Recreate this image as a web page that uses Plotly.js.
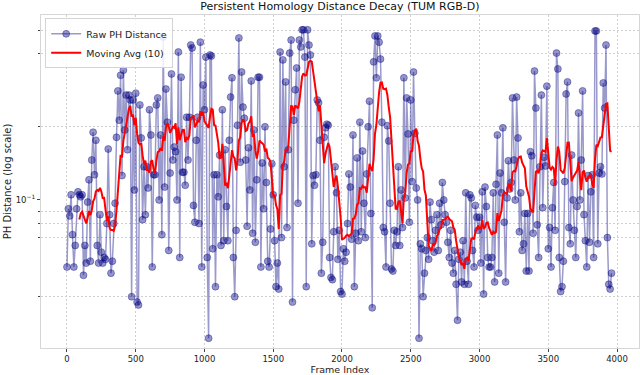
<!DOCTYPE html>
<html>
<head>
<meta charset="utf-8">
<script src="https://cdn.plot.ly/plotly-3.0.1.min.js"></script>
<style>
html, body { margin: 0; padding: 0; background: #fff; }
#chart { width: 640px; height: 375px; }
</style>
</head>
<body>
<div id="chart"></div>
<script>
// frames are sampled every 10 frames, starting at 0
var frameStep = 10;
var maWindow = 10;

// raw PH distance, one line per 100 frames
var rawDistance = [
    0.053, 0.092, 0.086, 0.105, 0.072, 0.053, 0.065, 0.092, 0.108, 0.105,
    0.103, 0.105, 0.049, 0.065, 0.055, 0.098, 0.121, 0.056, 0.146, 0.190,
    0.127, 0.176, 0.065, 0.055, 0.087, 0.061, 0.055, 0.058, 0.057, 0.080,
    0.162, 0.087, 0.050, 0.056, 0.080, 0.097, 0.181, 0.281, 0.213, 0.326,
    0.126, 0.342, 0.194, 0.270, 0.161, 0.270, 0.258, 0.040, 0.258, 0.110,
    0.275, 0.038, 0.037, 0.246, 0.180, 0.083, 0.137, 0.087, 0.137, 0.112,
    0.235, 0.185, 0.053, 0.127, 0.127, 0.246, 0.263, 0.100, 0.185, 0.072,
    0.468, 0.113, 0.286, 0.209, 0.062, 0.129, 0.330, 0.146, 0.165, 0.158,
    0.100, 0.406, 0.058, 0.320, 0.130, 0.130, 0.115, 0.219, 0.146, 0.219,
    0.434, 0.422, 0.095, 0.081, 0.176, 0.219, 0.080, 0.446, 0.053, 0.297,
    0.235, 0.387, 0.058, 0.027, 0.395, 0.391, 0.063, 0.127, 0.044, 0.127,
    0.103, 0.153, 0.065, 0.235, 0.068, 0.161, 0.094, 0.068, 0.176, 0.265,
    0.318, 0.058, 0.040, 0.075, 0.203, 0.464, 0.143, 0.336, 0.241, 0.217,
    0.146, 0.078, 0.164, 0.110, 0.309, 0.073, 0.194, 0.067, 0.121, 0.320,
    0.320, 0.053, 0.142, 0.092, 0.200, 0.118, 0.056, 0.053, 0.076, 0.141,
    0.105, 0.068, 0.044, 0.055, 0.043, 0.406, 0.070, 0.377, 0.137, 0.306,
    0.077, 0.161, 0.402, 0.455, 0.038, 0.213, 0.284, 0.349, 0.097, 0.455,
    0.426, 0.501, 0.501, 0.387, 0.044, 0.501, 0.434, 0.395, 0.066, 0.126,
    0.115, 0.127, 0.258, 0.251, 0.176, 0.050, 0.067, 0.181, 0.198, 0.205,
    0.203, 0.058, 0.048, 0.047, 0.074, 0.137, 0.107, 0.057, 0.075, 0.042,
    0.041, 0.063, 0.056, 0.061, 0.080, 0.128, 0.113, 0.069, 0.185, 0.044,
    0.073, 0.149, 0.068, 0.209, 0.074, 0.159, 0.097, 0.070, 0.128, 0.200,
    0.255, 0.088, 0.036, 0.370, 0.473, 0.318, 0.473, 0.446, 0.380, 0.209,
    0.077, 0.074, 0.053, 0.202, 0.175, 0.097, 0.052, 0.051, 0.075, 0.065,
    0.074, 0.137, 0.065, 0.110, 0.077, 0.318, 0.102, 0.263, 0.187, 0.081,
    0.258, 0.119, 0.336, 0.188, 0.112, 0.100, 0.027, 0.066, 0.063, 0.040,
    0.050, 0.062, 0.070, 0.057, 0.098, 0.083, 0.068, 0.061, 0.075, 0.087,
    0.062, 0.097, 0.079, 0.118, 0.100, 0.087, 0.081, 0.067, 0.058, 0.075,
    0.055, 0.050, 0.062, 0.045, 0.032, 0.057, 0.061, 0.046, 0.068, 0.045,
    0.107, 0.056, 0.045, 0.105, 0.102, 0.062, 0.053, 0.095, 0.085, 0.075,
    0.085, 0.055, 0.108, 0.041, 0.113, 0.094, 0.058, 0.053, 0.053, 0.058,
    0.107, 0.046, 0.116, 0.185, 0.050, 0.129, 0.107, 0.198, 0.081, 0.046,
    0.102, 0.145, 0.111, 0.118, 0.263, 0.146, 0.100, 0.265, 0.180, 0.074,
    0.107, 0.062, 0.066, 0.088, 0.051, 0.088, 0.051, 0.158, 0.152, 0.073,
    0.339, 0.239, 0.079, 0.058, 0.137, 0.270, 0.093, 0.150, 0.138, 0.294,
    0.063, 0.077, 0.053, 0.093, 0.118, 0.075, 0.402, 0.346, 0.058, 0.042,
    0.044, 0.056, 0.119, 0.273, 0.306, 0.077, 0.066, 0.153, 0.100, 0.075,
    0.058, 0.094, 0.228, 0.100, 0.146, 0.281, 0.087, 0.068, 0.053, 0.126,
    0.067, 0.108, 0.127, 0.058, 0.496, 0.496, 0.066, 0.129, 0.137, 0.128,
    0.303, 0.239, 0.434, 0.070, 0.045, 0.043, 0.050
];

var xTickVals = [0, 500, 1000, 1500, 2000, 2500, 3000, 3500, 4000];
var yTickVals = [0.1];
var yTickText = ['10<sup>\u22121</sup>'];
var yMinorVals = [0.04, 0.07, 0.08, 0.09, 0.2, 0.4, 0.5];

var frames = rawDistance.map(function(d, i) { return i * frameStep; });

// moving average, 'valid' window, plotted at the window's last frame
var maFrames = [];
var maValues = [];
for (var i = maWindow - 1; i < rawDistance.length; i++) {
    var s = 0;
    for (var j = i - maWindow + 1; j <= i; j++) s += rawDistance[j];
    maFrames.push(frames[i]);
    maValues.push(s / maWindow);
}

var traceRaw = {
    name: 'Raw PH Distance',
    type: 'scatter',
    mode: 'lines+markers',
    x: frames,
    y: rawDistance,
    line: { color: 'rgba(0,0,128,0.4)', width: 1.5 },
    marker: {
        size: 7,
        color: 'rgba(0,0,128,0.42)',
        line: { color: 'rgba(0,0,128,0.35)', width: 1 }
    }
};

var traceMa = {
    name: 'Moving Avg (10)',
    type: 'scatter',
    mode: 'lines',
    x: maFrames,
    y: maValues,
    line: { color: 'red', width: 2 }
};

var gridDash = '2px,2px';

var layout = {
    width: 640,
    height: 375,
    margin: { l: 41, r: 1, t: 15, b: 27 },
    paper_bgcolor: '#fff',
    plot_bgcolor: '#fff',
    font: { family: 'DejaVu Sans, sans-serif', size: 9, color: '#222' },
    title: {
        text: 'Persistent Homology Distance Decay (TUM RGB-D)',
        font: { size: 11, color: '#111' },
        x: 0.531, xanchor: 'center',
        yref: 'container', y: 1, yanchor: 'top',
        pad: { t: 2 }
    },
    showlegend: true,
    legend: {
        x: 0.007, y: 0.99, xanchor: 'left', yanchor: 'top',
        bgcolor: 'rgba(255,255,255,0.85)',
        bordercolor: '#d4d4d4', borderwidth: 1,
        font: { size: 9.5, color: '#222' },
        itemwidth: 30,
        tracegroupgap: 0
    },
    xaxis: {
        range: [-189, 4160],
        tickmode: 'array',
        tickvals: xTickVals,
        ticks: 'outside', ticklen: 3, tickcolor: '#444',
        tickfont: { size: 8.5, color: '#222' },
        showgrid: true, gridcolor: '#cfcfcf', griddash: gridDash, gridwidth: 1,
        zeroline: false,
        showline: true, linecolor: '#d6d6d6', mirror: true,
        title: { text: 'Frame Index', font: { size: 9.5 }, standoff: 3 }
    },
    yaxis: {
        type: 'log',
        range: [-1.609, -0.239],
        tickmode: 'array',
        tickvals: yTickVals,
        ticktext: yTickText,
        ticks: 'outside', ticklen: 3, tickcolor: '#444',
        tickfont: { size: 8.5, color: '#222' },
        showgrid: false,
        minor: {
            tickmode: 'array',
            tickvals: yMinorVals,
            ticks: 'outside', ticklen: 2, tickcolor: '#444',
            showgrid: true, gridcolor: '#cfcfcf', griddash: gridDash, gridwidth: 1
        },
        zeroline: false,
        showline: true, linecolor: '#d6d6d6', mirror: true,
        title: { text: 'PH Distance (log scale)', font: { size: 10 }, standoff: 2 }
    }
};

Plotly.newPlot('chart', [traceRaw, traceMa], layout, { displayModeBar: false, staticPlot: true });
</script>
</body>
</html>
